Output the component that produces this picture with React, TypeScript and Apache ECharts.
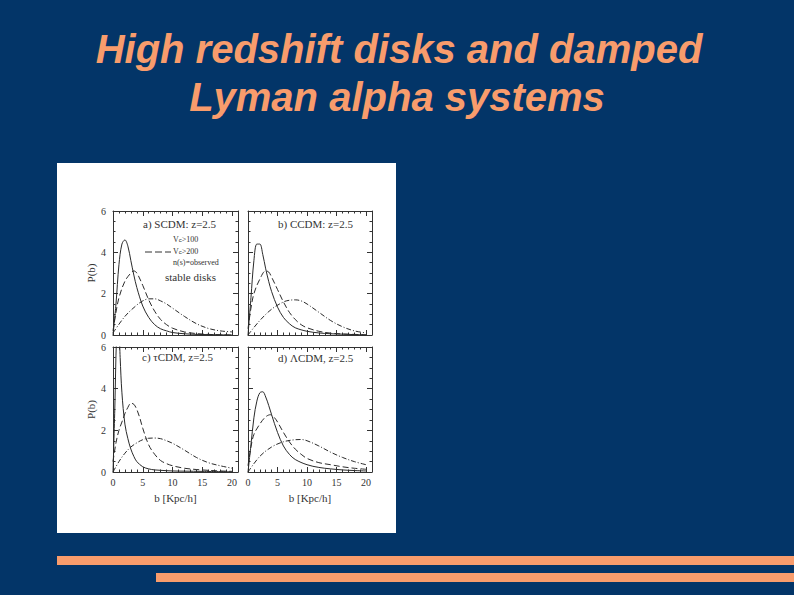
import React, { useEffect, useRef } from 'react'
import * as echarts from 'echarts'

// b [Kpc/h] sample points and P(b) values
const bA1 = [0, 0.5, 1, 1.5, 2, 2.5, 3, 3.5, 4, 5, 6, 7, 8, 9, 10, 12, 14, 16, 18, 20]
const pA1 = [0, 1.5, 3.4, 4.4, 4.6, 4.3, 3.6, 2.9, 2.3, 1.4, 0.85, 0.5, 0.3, 0.2, 0.12, 0.06, 0.03, 0.02, 0.01, 0]
const bA2 = [0, 0.5, 1, 2, 3, 3.5, 4, 5, 6, 7, 8, 9, 10, 12, 14, 16, 18, 20]
const pA2 = [0.2, 1.1, 1.8, 2.6, 3.0, 3.1, 3.0, 2.4, 1.7, 1.15, 0.75, 0.5, 0.33, 0.15, 0.07, 0.03, 0.01, 0]
const bA3 = [0, 2, 4, 5, 6, 7, 8, 9, 10, 12, 14, 16, 18, 20]
const pA3 = [0.1, 0.9, 1.45, 1.65, 1.75, 1.75, 1.65, 1.5, 1.3, 0.9, 0.55, 0.32, 0.2, 0.15]

const bB1 = [0, 0.5, 1, 1.5, 2, 2.5, 3, 3.5, 4, 5, 6, 7, 8, 10, 12, 14, 16, 18, 20]
const pB1 = [0, 1.8, 3.6, 4.4, 4.4, 3.9, 3.2, 2.6, 2.1, 1.35, 0.85, 0.55, 0.35, 0.18, 0.1, 0.06, 0.04, 0.02, 0.01]
const bB2 = [0, 0.5, 1, 2, 3, 3.5, 4, 5, 6, 7, 8, 9, 10, 12, 14, 16, 18, 20]
const pB2 = [0.3, 1.3, 2.0, 2.7, 3.1, 3.05, 2.8, 2.2, 1.6, 1.1, 0.75, 0.5, 0.35, 0.18, 0.09, 0.05, 0.03, 0.01]
const bB3 = [0, 2, 4, 6, 7, 8, 9, 10, 12, 14, 16, 18, 20]
const pB3 = [0, 0.7, 1.25, 1.6, 1.68, 1.7, 1.65, 1.5, 1.1, 0.7, 0.4, 0.2, 0.1]

const bC1 = [0, 0.3, 0.6, 0.9, 1.2, 1.5, 2, 2.5, 3, 3.5, 4, 5, 6, 7, 8, 10, 12, 15, 20]
const pC1 = [0, 3, 6.5, 7.5, 5.5, 3.8, 2.3, 1.6, 1.1, 0.75, 0.5, 0.25, 0.15, 0.1, 0.08, 0.05, 0.04, 0.03, 0.01]
const bC2 = [0, 0.5, 1, 1.5, 2, 2.5, 3, 3.5, 4, 4.5, 5, 6, 7, 8, 9, 10, 12, 14, 16, 18, 20]
const pC2 = [0.5, 1.4, 2.0, 2.4, 2.8, 3.1, 3.3, 3.25, 3.0, 2.6, 2.1, 1.3, 0.85, 0.55, 0.4, 0.3, 0.18, 0.12, 0.08, 0.05, 0.03]
const bC3 = [0, 1, 2, 3, 4, 5, 6, 7, 8, 9, 10, 12, 14, 16, 18, 20]
const pC3 = [0, 0.5, 0.9, 1.2, 1.4, 1.55, 1.62, 1.63, 1.6, 1.5, 1.38, 1.05, 0.7, 0.45, 0.3, 0.18]

const bD1 = [0, 0.5, 1, 1.5, 2, 2.5, 3, 3.5, 4, 5, 6, 7, 8, 10, 12, 14, 16, 18, 20]
const pD1 = [0, 1.3, 2.6, 3.4, 3.8, 3.85, 3.6, 3.2, 2.75, 1.9, 1.25, 0.85, 0.6, 0.35, 0.22, 0.15, 0.1, 0.07, 0.05]
const bD2 = [0, 0.5, 1, 2, 3, 3.8, 4.5, 5, 6, 7, 8, 9, 10, 12, 14, 16, 18, 20]
const pD2 = [0.3, 1.2, 1.8, 2.3, 2.65, 2.75, 2.6, 2.4, 1.9, 1.45, 1.1, 0.85, 0.65, 0.45, 0.35, 0.25, 0.18, 0.13]
const bD3 = [0, 2, 4, 6, 8, 9, 10, 12, 14, 16, 18, 20]
const pD3 = [0, 0.75, 1.2, 1.45, 1.55, 1.56, 1.5, 1.25, 0.95, 0.7, 0.5, 0.35]

const panelTitles = ['a) SCDM: z=2.5', 'b) CCDM: z=2.5', 'c) τCDM, z=2.5', 'd) ΛCDM, z=2.5']
const legendLabels = ['100', '200', 'n(s)=observed']
const xTicks = [0, 5, 10, 15, 20]

const INK = '#333333'
const SERIF = '"Liberation Serif", "DejaVu Serif", serif'

const pair = (b: number[], p: number[]) => b.map((v, i) => [v, p[i]])

const App: React.FC = () => {
    const chartRef = useRef<HTMLDivElement | null>(null)

    useEffect(() => {
        if (!chartRef.current) return
        const chart = echarts.init(chartRef.current, null, { renderer: 'svg' })

        // plot boxes: left, top, width, height
        const boxes = [
            [113, 211, 125, 124],
            [248, 211, 124, 124],
            [113, 347, 125, 125],
            [248, 347, 124, 125],
        ]
        const curves = [
            [pair(bA1, pA1), pair(bA2, pA2), pair(bA3, pA3)],
            [pair(bB1, pB1), pair(bB2, pB2), pair(bB3, pB3)],
            [pair(bC1, pC1), pair(bC2, pC2), pair(bC3, pC3)],
            [pair(bD1, pD1), pair(bD2, pD2), pair(bD3, pD3)],
        ]
        const dashes: any[] = ['solid', [6, 3], [5, 2, 1, 2]]

        const grid: any[] = []
        const xAxis: any[] = []
        const yAxis: any[] = []
        const series: any[] = []

        boxes.forEach((bx, i) => {
            grid.push({ left: bx[0], top: bx[1], width: bx[2], height: bx[3], show: false })
            const bottomRow = i >= 2
            const leftCol = i % 2 === 0
            const tick = { inside: true, length: 5, lineStyle: { color: INK } }
            const minor = { show: true, length: 2.5, lineStyle: { color: INK } }
            const line = { show: true, onZero: false, lineStyle: { color: INK, width: 1 } }
            // bottom & top x axes
            xAxis.push({
                type: 'value', gridIndex: i, min: 0, max: 21, interval: 5, position: 'bottom',
                axisLine: line, axisTick: tick, minorTick: { ...minor, splitNumber: 5 }, splitLine: { show: false },
                axisLabel: {
                    show: bottomRow, showMaxLabel: false, color: INK, fontFamily: SERIF, fontSize: 10, margin: 5,
                    formatter: (v: number) => (xTicks.includes(v) ? String(v) : ''),
                },
                name: bottomRow ? 'b [Kpc/h]' : '', nameLocation: 'middle', nameGap: 20,
                nameTextStyle: { color: INK, fontFamily: SERIF, fontSize: 11 },
            })
            xAxis.push({
                type: 'value', gridIndex: i, min: 0, max: 21, interval: 5, position: 'top',
                axisLine: line, axisTick: tick, minorTick: { ...minor, splitNumber: 5 },
                splitLine: { show: false }, axisLabel: { show: false },
            })
            // left & right y axes
            yAxis.push({
                type: 'value', gridIndex: i, min: 0, max: 6, interval: 2, position: 'left',
                axisLine: line, axisTick: tick, minorTick: { ...minor, splitNumber: 4 }, splitLine: { show: false },
                axisLabel: { show: leftCol, color: INK, fontFamily: SERIF, fontSize: 10, margin: 7 },
                name: leftCol ? 'P(b)' : '', nameLocation: 'middle', nameGap: 17,
                nameTextStyle: { color: INK, fontFamily: SERIF, fontSize: 11 },
            })
            yAxis.push({
                type: 'value', gridIndex: i, min: 0, max: 6, interval: 2, position: 'right',
                axisLine: line, axisTick: tick, minorTick: { ...minor, splitNumber: 4 },
                splitLine: { show: false }, axisLabel: { show: false },
            })
            curves[i].forEach((data, k) => {
                series.push({
                    type: 'line', xAxisIndex: i * 2, yAxisIndex: i * 2, data, smooth: 0.35,
                    showSymbol: false, clip: true,
                    lineStyle: { color: '#2a2a2a', width: 1, type: dashes[k] },
                })
            })
        })

        const panelText = (i: number, x: number, y: number) => ({
            type: 'text', x, y, z: 10,
            style: { text: panelTitles[i], fill: INK, font: `11px ${SERIF}`, textAlign: 'left', textVerticalAlign: 'middle' },
        })
        const titleFont = 'italic bold 40px "Liberation Sans", Arial, sans-serif'

        chart.setOption({
            animation: false,
            backgroundColor: '#033568',
            grid, xAxis, yAxis, series,
            graphic: [
                { type: 'rect', z: 0, shape: { x: 57, y: 163, width: 339, height: 370 }, style: { fill: '#ffffff' } },
                { type: 'rect', z: 0, shape: { x: 57, y: 556, width: 737, height: 9 }, style: { fill: '#F89C6C' } },
                { type: 'rect', z: 0, shape: { x: 156, y: 573, width: 638, height: 9 }, style: { fill: '#F89C6C' } },
                {
                    type: 'text', x: 399, y: 49, z: 10,
                    style: {
                        text: 'High redshift disks and damped', fill: '#F89C6C', textAlign: 'center',
                        textVerticalAlign: 'middle', font: titleFont,
                    },
                },
                {
                    type: 'text', x: 397, y: 97, z: 10,
                    style: {
                        text: 'Lyman alpha systems', fill: '#F89C6C', textAlign: 'center',
                        textVerticalAlign: 'middle', font: titleFont,
                    },
                },
                panelText(0, 143, 224),
                panelText(1, 278, 224),
                panelText(2, 142, 357),
                panelText(3, 278, 358),
                {
                    type: 'text', x: 173, y: 239, z: 10,
                    style: {
                        text: 'V{s|c}>' + legendLabels[0], fill: INK, font: `8px ${SERIF}`, textVerticalAlign: 'middle',
                        rich: { s: { fontSize: 6, verticalAlign: 'bottom', fill: INK } },
                    },
                },
                {
                    type: 'text', x: 173, y: 251, z: 10,
                    style: {
                        text: 'V{s|c}>' + legendLabels[1], fill: INK, font: `8px ${SERIF}`, textVerticalAlign: 'middle',
                        rich: { s: { fontSize: 6, verticalAlign: 'bottom', fill: INK } },
                    },
                },
                {
                    type: 'line', z: 10, shape: { x1: 145, y1: 252, x2: 171, y2: 252 },
                    style: { stroke: INK, lineWidth: 1, lineDash: [7, 3] },
                },
                {
                    type: 'text', x: 173, y: 262, z: 10,
                    style: { text: legendLabels[2], fill: INK, font: `8px ${SERIF}`, textVerticalAlign: 'middle' },
                },
                {
                    type: 'text', x: 165, y: 277, z: 10,
                    style: { text: 'stable disks', fill: INK, font: `11px ${SERIF}`, textVerticalAlign: 'middle' },
                },
            ],
        })

        return () => {
            chart.dispose()
        }
    }, [])

    return <div ref={chartRef} style={{ position: 'fixed', left: 0, top: 0, width: 794, height: 595 }} />
}

export default App
